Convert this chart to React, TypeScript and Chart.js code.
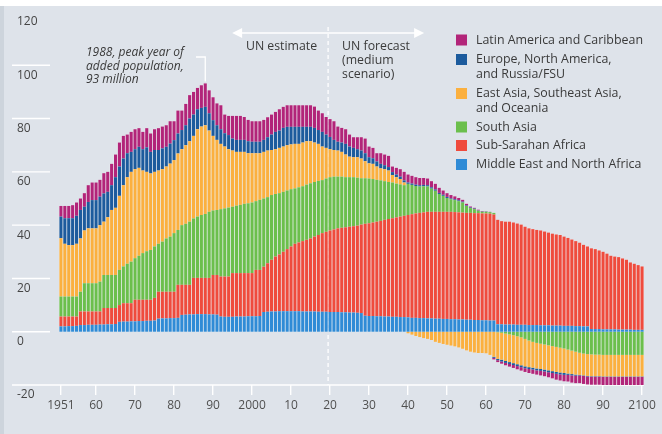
import React, { useEffect, useRef } from 'react';
import { Chart, registerables } from 'chart.js';

Chart.register(...registerables);

const FONT = "'Open Sans', 'DejaVu Sans', sans-serif";
const PANEL = '#dee3ea';

const YEARS: number[] = Array.from({ length: 150 }, (_, i) => 1951 + i);

const X_TICK_YEARS = [1951, 1960, 1970, 1980, 1990, 2000, 2010, 2020, 2030, 2040, 2050, 2060, 2070, 2080, 2090, 2100];
const X_TICK_LABELS = ['1951', '60', '70', '80', '90', '2000', '10', '20', '30', '40', '50', '60', '70', '80', '90', '2100'];
const Y_GRID_SHORT = [0, 20, 40, 60, 80, 100];

// Middle East and North Africa
const ME = [
  2.0, 2.0, 2.1, 2.1, 2.2,
  2.5, 2.5, 2.6, 2.6, 2.6, 2.7, 2.7, 2.8, 2.8, 2.9,
  3.7, 3.8, 3.8, 3.9, 3.9, 4.0, 4.0, 4.1, 4.1, 4.2,
  4.9, 5.0, 5.0, 5.1, 5.1, 5.2,
  6.3, 6.4, 6.5, 6.5, 6.6, 6.6, 6.6, 6.5, 6.5, 6.4,
  5.7, 5.6, 5.6, 5.6, 5.7, 5.7, 5.7, 5.8, 5.8, 5.8, 5.9,
  7.4, 7.5, 7.6, 7.6, 7.7, 7.7, 7.7, 7.7, 7.7, 7.7, 7.6, 7.6, 7.6, 7.6, 7.5, 7.5, 7.5, 7.4, 7.4, 7.4, 7.3, 7.3, 7.2, 7.2, 7.1, 7.0,
  6.0, 5.9, 5.9, 5.8, 5.8, 5.7, 5.7, 5.6, 5.6, 5.5, 5.5, 5.4,
  5.2, 5.2, 5.1, 5.1, 5.0, 5.0, 4.9, 4.9, 4.8, 4.8, 4.7, 4.7, 4.6, 4.6, 4.5, 4.5, 4.4, 4.4, 4.3, 4.3, 4.2, 4.2,
  2.8, 2.8, 2.7, 2.7, 2.7, 2.6, 2.6, 2.6, 2.5, 2.5, 2.5, 2.4, 2.4, 2.4, 2.3, 2.3, 2.3, 2.2, 2.2, 2.2, 2.1, 2.1, 2.0, 2.0,
  1.0, 1.0, 1.0, 0.9, 0.9, 0.9, 0.9, 0.8, 0.8, 0.8, 0.8, 0.7, 0.7, 0.7,
];

// Sub-Saharan Africa
const SSA = [
  3.7, 3.7, 3.6, 3.6, 3.5, 5.1, 5.1, 5.0, 5.0, 5.0,
  4.9, 6.2, 6.1, 6.1, 6.0, 6.3, 6.9, 6.9, 6.8, 8.1,
  8.0, 8.0, 7.9, 7.9, 8.5, 10.1, 10.0, 10.0, 9.9, 9.9,
  12.4, 11.3, 11.2, 11.1, 13.7, 13.6, 13.6, 13.6, 13.7, 14.8,
  14.9, 15.0, 15.1, 15.1, 16.4, 16.3, 16.3, 16.3, 16.2, 16.2,
  17.4, 17.3, 17.0, 18.2, 19.4, 20.6, 21.3, 22.3, 23.3, 24.3,
  25.3, 25.8, 26.4, 26.9, 27.4, 28.1, 28.8, 29.5, 30.0, 30.6,
  31.0, 31.4, 31.7, 31.9, 32.2, 32.4, 32.7, 33.2, 34.5, 34.8,
  35.1, 35.5, 35.8, 36.3, 36.6, 37.0, 37.3, 37.7, 38.0, 38.4,
  38.9, 39.2, 39.5, 39.7, 40.0, 40.0, 40.1, 40.1, 40.2, 40.2,
  40.3, 40.2, 40.2, 40.1, 40.1, 40.1, 40.1, 40.1, 40.1, 40.1,
  40.1, 39.8, 39.2, 38.7, 38.6, 38.6, 38.3, 38.0, 37.6, 36.8,
  36.3, 36.0, 35.7, 35.6, 35.2, 34.8, 34.5, 34.2, 34.0, 33.5,
  33.0, 32.4, 31.9, 31.3, 30.6, 30.0, 30.3, 30.0, 29.5, 29.1,
  28.4, 27.6, 27.3, 27.2, 26.7, 26.2, 25.2, 24.8, 24.3, 23.8,
];

// South Asia
const SA = [
  7.5, 7.5, 7.5, 7.5, 7.5, 7.4, 10.6, 10.6, 10.6, 10.6,
  11.2, 12.4, 12.4, 12.4, 12.4, 13.2, 13.8, 14.8, 15.6, 15.6,
  16.5, 17.5, 18.2, 18.7, 19.3, 18.0, 18.8, 20.0, 20.7, 22.0,
  20.6, 22.4, 22.9, 23.7, 22.3, 23.0, 23.6, 24.0, 24.8, 24.2,
  24.4, 25.3, 25.6, 25.9, 24.9, 25.3, 25.6, 26.0, 26.2, 26.5,
  25.8, 26.3, 25.6, 24.8, 24.3, 23.5, 23.0, 22.5, 22.0, 21.5,
  20.8, 20.7, 20.6, 20.7, 20.7, 20.5, 20.3, 19.9, 20.0, 20.0,
  19.8, 19.4, 19.2, 18.8, 18.6, 18.4, 18.0, 17.4, 17.1, 16.8,
  16.3, 15.7, 15.2, 14.5, 13.9, 13.4, 12.7, 12.1, 11.5, 11.7,
  11.0, 10.3, 9.9, 9.8, 9.5, 8.7, 7.9, 6.7, 6.0, 5.2,
  4.7, 4.5, 4.2, 3.8, 2.6, 1.8, 1.5, 0.9, 0.6, 0.6,
  0.6, 0.6, -0.2, -0.4, -0.7, -1.0, -1.3, -1.7, -2.1, -2.7,
  -3.3, -3.8, -4.2, -4.5, -4.8, -5.1, -5.4, -5.7, -6.0, -6.3,
  -6.7, -7.1, -7.5, -7.9, -8.2, -8.4, -8.5, -8.6, -8.6, -8.7,
  -8.7, -8.7, -8.7, -8.7, -8.7, -8.7, -8.7, -8.7, -8.7, -8.7,
];

// East Asia, Southeast Asia, and Oceania
const EA = [
  21.9, 19.8, 19.3, 19.3, 19.8, 20.0, 19.8, 20.6, 20.6, 20.6,
  21.2, 20.0, 21.7, 24.4, 25.2, 27.8, 30.5, 32.5, 33.7, 33.4,
  33.0, 31.0, 29.8, 28.7, 28.0, 27.5, 27.2, 27.0, 27.4, 27.4,
  28.7, 28.5, 29.5, 30.2, 31.0, 32.8, 33.2, 33.3, 30.5, 28.0,
  26.3, 24.5, 23.2, 21.9, 21.1, 20.2, 19.9, 19.5, 18.8, 18.5,
  18.0, 17.5, 17.5, 17.5, 16.9, 16.8, 17.0, 17.0, 17.0, 16.8,
  16.7, 16.3, 16.4, 16.3, 15.8, 14.8, 13.9, 12.6, 11.5, 10.5,
  10.0, 9.8, 9.3, 8.5, 7.7, 7.5, 7.7, 7.4, 6.4, 5.7,
  5.7, 5.0, 4.5, 4.5, 4.3, 2.8, 2.4, 2.0, 1.0, -0.6,
  -1.1, -1.6, -2.0, -2.4, -2.7, -3.1, -3.8, -4.2, -4.6, -4.9,
  -5.2, -5.5, -5.9, -6.4, -7.0, -7.5, -7.8, -8.0, -8.0, -8.1,
  -8.7, -9.4, -10.0, -10.1, -10.3, -10.4, -10.5, -10.5, -10.5, -10.3,
  -10.0, -9.7, -9.6, -9.5, -9.4, -9.4, -9.4, -9.4, -9.3, -9.2,
  -9.0, -8.8, -8.6, -8.3, -8.2, -8.2, -8.2, -8.1, -8.1, -8.1,
  -8.1, -8.1, -8.1, -8.1, -8.1, -8.1, -8.1, -8.1, -8.1, -8.1,
];

// Europe, North America, and Russia/FSU
const EUR = [
  8.1, 9.6, 10.1, 10.1, 10.5, 10.7, 8.9, 9.9, 10.6, 10.6,
  10.7, 10.6, 9.5, 9.3, 11.5, 11.0, 10.0, 9.0, 7.5, 7.5,
  7.9, 8.0, 9.2, 8.1, 8.2, 7.7, 7.8, 7.4, 7.5, 7.5,
  7.5, 7.2, 7.5, 8.5, 8.0, 7.5, 7.0, 6.9, 6.5, 5.9,
  5.5, 5.5, 5.0, 5.3, 4.5, 4.5, 4.5, 4.5, 4.5, 4.3,
  4.3, 4.3, 4.5, 5.0, 5.8, 6.5, 6.5, 7.0, 6.9, 6.6,
  6.4, 6.4, 5.9, 5.4, 5.4, 5.5, 5.2, 5.5, 5.0, 4.6,
  3.8, 3.3, 3.5, 4.0, 3.8, 3.5, 3.0, 3.0, 3.0, 2.3,
  2.1, 1.9, 1.7, 1.5, 1.3, 1.1, 1.0, 0.9, 0.8, 0.5,
  0.5, 0.5, 0.5, 0.5, 0.5, 0.5, 0.5, 0.4, 0.4, 0.4,
  0.3, 0.3, 0.3, 0.3, 0.2, 0.2, 0.2, 0.1, 0.1, 0.1,
  0.05, -0.4, -0.5, -0.7, -0.7, -0.7, -0.7, -0.7, -0.7, -0.7,
  -0.7, -0.7, -0.7, -0.7, -0.7, -0.7, -0.7, -0.7, -0.7, -0.7,
  -0.5, -0.5, -0.4, -0.2, -0.2, -0.2, -0.2, -0.2, -0.2, -0.2,
  -0.2, -0.2, -0.2, -0.2, -0.2, -0.2, -0.2, -0.2, -0.2, -0.2,
];

// Latin America and Caribbean
const LAT = [
  4.0, 4.6, 4.6, 4.9, 5.0, 4.3, 5.1, 6.3, 6.6, 6.6,
  6.3, 7.6, 7.5, 8.0, 8.5, 9.0, 8.5, 7.0, 7.5, 7.5,
  7.0, 6.5, 7.2, 6.9, 7.8, 8.2, 8.2, 8.1, 8.4, 7.1,
  8.6, 7.3, 8.0, 8.8, 8.5, 8.0, 8.5, 8.8, 8.6, 8.6,
  8.2, 9.0, 7.0, 7.2, 8.5, 9.0, 9.0, 8.6, 8.0, 7.7,
  7.7, 7.7, 7.5, 7.5, 7.5, 7.5, 8.0, 7.9, 8.1, 8.1,
  8.1, 8.1, 8.1, 8.1, 8.1, 8.0, 7.3, 7.0, 6.6, 6.7,
  7.0, 5.7, 5.5, 5.5, 4.5, 4.0, 4.5, 5.0, 5.5, 4.0,
  3.9, 3.1, 4.0, 4.0, 4.2, 2.1, 2.5, 2.8, 3.2, 3.0,
  2.9, 2.8, 2.7, 2.6, 2.5, 2.3, 2.1, 1.9, 1.6, 1.4,
  1.3, 1.1, 0.9, 0.7, 0.6, 0.4, 0.3, 0.3, 0.2, 0.1,
  0.05, -0.6, -0.7, -0.8, -0.9, -1.0, -1.1, -1.2, -1.3, -1.4,
  -1.5, -1.6, -1.6, -1.7, -1.8, -1.9, -2.0, -2.2, -2.3, -2.4,
  -2.5, -2.7, -2.8, -2.9, -3.0, -3.0, -3.0, -3.0, -3.0, -3.0,
  -3.0, -3.0, -3.0, -3.0, -3.0, -3.0, -3.0, -3.0, -3.0, -3.0,
];

const SERIES_NAMES = [
  'Middle East and North Africa',
  'Sub-Sarahan Africa',
  'South Asia',
  'East Asia, Southeast Asia, and Oceania',
  'Europe, North America, and Russia/FSU',
  'Latin America and Caribbean',
];
const SERIES_COLORS = ['#2f8bd6', '#ef4b3d', '#6bbf4c', '#fbb03f', '#1c5b9d', '#b22479'];
const SERIES_DATA = [ME, SSA, SA, EA, EUR, LAT];

// legend (top to bottom), text lines per entry
const LEGEND_ORDER = [5, 4, 3, 2, 1, 0];
const LEGEND_LINES = [
  ['Latin America and Caribbean'],
  ['Europe, North America,', 'and Russia/FSU'],
  ['East Asia, Southeast Asia,', 'and Oceania'],
  ['South Asia'],
  ['Sub-Sarahan Africa'],
  ['Middle East and North Africa'],
];
const LEGEND_Y = [40, 59.5, 93.5, 127, 145.5, 164.5];

const PEAK_YEAR = 1988;
const PEAK_TEXT = ['1988, peak year of', 'added population,', '93 million'];
const FORECAST_START = 2020;

const decor = {
  id: 'decor',
  beforeDraw(chart: any) {
    const { ctx, width, height, chartArea } = chart;
    const y = chart.scales.y;
    ctx.save();
    ctx.fillStyle = '#ffffff';
    ctx.fillRect(0, 0, width, height);
    ctx.fillStyle = PANEL;
    ctx.fillRect(0, 6, width, height - 6);
    ctx.fillStyle = '#cdd4dc';
    ctx.fillRect(0, 6, 4, height - 6);
    ctx.strokeStyle = '#ffffff';
    ctx.lineWidth = 1.4;
    for (const v of Y_GRID_SHORT) {
      const py = y.getPixelForValue(v);
      ctx.beginPath();
      ctx.moveTo(12, py);
      ctx.lineTo(50, py);
      ctx.stroke();
    }
    const pb = y.getPixelForValue(-20);
    ctx.beginPath();
    ctx.moveTo(12, pb);
    ctx.lineTo(chartArea.right, pb);
    ctx.stroke();
    ctx.restore();
  },
  beforeDatasetsDraw(chart: any) {
    const { ctx } = chart;
    const x = chart.scales.x;
    const y = chart.scales.y;
    const slot = x.getPixelForValue(1) - x.getPixelForValue(0);
    ctx.save();
    const dx = x.getPixelForValue(YEARS.indexOf(FORECAST_START)) - slot / 2;
    ctx.strokeStyle = '#ffffff';
    ctx.lineWidth = 1.3;
    ctx.setLineDash([4, 3]);
    ctx.beginPath();
    ctx.moveTo(dx, 27);
    ctx.lineTo(dx, y.getPixelForValue(-20));
    ctx.stroke();
    ctx.setLineDash([]);
    ctx.fillStyle = 'rgba(255,255,255,0.5)';
    const ds = chart.data.datasets;
    for (let i = 0; i < YEARS.length; i++) {
      let pos = 0;
      let neg = 0;
      for (const d of ds) {
        const v = d.data[i] as number;
        if (v >= 0) pos += v;
        else neg += v;
      }
      const cx = x.getPixelForValue(i);
      const top = y.getPixelForValue(pos);
      const bot = y.getPixelForValue(neg);
      ctx.fillRect(cx - slot / 2, top, slot, bot - top);
    }
    ctx.restore();
  },
  afterDatasetsDraw(chart: any) {
    const { ctx } = chart;
    const x = chart.scales.x;
    const y = chart.scales.y;
    const slot = x.getPixelForValue(1) - x.getPixelForValue(0);
    ctx.save();
    const dx = x.getPixelForValue(YEARS.indexOf(FORECAST_START)) - slot / 2;

    const ay = 33;
    const l = dx - 96;
    const r = dx + 96;
    ctx.strokeStyle = '#ffffff';
    ctx.fillStyle = '#ffffff';
    ctx.lineWidth = 1.5;
    ctx.beginPath();
    ctx.moveTo(l + 6, ay);
    ctx.lineTo(r - 6, ay);
    ctx.stroke();
    ctx.beginPath();
    ctx.moveTo(l, ay);
    ctx.lineTo(l + 10, ay - 5);
    ctx.lineTo(l + 10, ay + 5);
    ctx.closePath();
    ctx.fill();
    ctx.beginPath();
    ctx.moveTo(r, ay);
    ctx.lineTo(r - 10, ay - 5);
    ctx.lineTo(r - 10, ay + 5);
    ctx.closePath();
    ctx.fill();

    ctx.fillStyle = '#3a3a3a';
    ctx.font = `12.3px ${FONT}`;
    ctx.textBaseline = 'middle';
    ctx.textAlign = 'right';
    ctx.fillText('UN estimate', dx - 11, 46);
    ctx.textAlign = 'left';
    ['UN forecast', '(medium', 'scenario)'].forEach((t, k) => ctx.fillText(t, dx + 14, 46 + k * 14));

    const pi = YEARS.indexOf(PEAK_YEAR);
    let peakTotal = 0;
    for (const d of chart.data.datasets) {
      const v = d.data[pi] as number;
      if (v > 0) peakTotal += v;
    }
    const px = x.getPixelForValue(pi);
    const ptop = y.getPixelForValue(peakTotal);
    ctx.strokeStyle = '#ffffff';
    ctx.lineWidth = 1.3;
    ctx.beginPath();
    ctx.moveTo(196, 57);
    ctx.lineTo(px, 57);
    ctx.lineTo(px, ptop - 2);
    ctx.stroke();
    ctx.fillStyle = '#3a3a3a';
    ctx.font = `italic 12px ${FONT}`;
    ctx.textAlign = 'left';
    PEAK_TEXT.forEach((t, k) => ctx.fillText(t, 86, 53 + k * 13.5));

    ctx.font = `12.4px ${FONT}`;
    LEGEND_ORDER.forEach((si, k) => {
      const cy = LEGEND_Y[k];
      ctx.fillStyle = SERIES_COLORS[si];
      ctx.fillRect(456, cy - 5.5, 11, 11);
      ctx.fillStyle = '#3a3a3a';
      LEGEND_LINES[k].forEach((t, j) => ctx.fillText(t, 476, cy + j * 14.5));
    });
    ctx.restore();
  },
};

export default function App() {
  const ref = useRef<HTMLCanvasElement | null>(null);
  useEffect(() => {
    document.body.style.margin = '0';
    const canvas = ref.current;
    if (!canvas) return;
    const chart = new Chart(canvas, {
      type: 'bar',
      data: {
        labels: YEARS.map(String),
        datasets: SERIES_DATA.map((d, k) => ({
          label: SERIES_NAMES[k],
          data: d,
          backgroundColor: SERIES_COLORS[k],
          borderWidth: 0,
          barPercentage: 0.8,
          categoryPercentage: 1,
          stack: 'all',
        })),
      },
      options: {
        animation: false,
        responsive: false,
        devicePixelRatio: 1,
        layout: { padding: { left: 17, right: 18, top: 12, bottom: 0 } },
        plugins: { legend: { display: false }, tooltip: { enabled: false } },
        scales: {
          x: {
            type: 'category',
            stacked: true,
            grid: { display: true, drawOnChartArea: false, drawTicks: true, tickLength: 10, color: '#ffffff', lineWidth: 1.4, offset: false },
            border: { display: false },
            ticks: {
              autoSkip: false,
              maxRotation: 0,
              padding: 3,
              color: '#505050',
              font: { family: FONT, size: 12 },
              callback: (value: any) => {
                const k = X_TICK_YEARS.indexOf(YEARS[value as number]);
                return k >= 0 ? X_TICK_LABELS[k] : '';
              },
            },
            afterBuildTicks: (axis: any) => {
              axis.ticks = axis.ticks.filter((t: any) => X_TICK_YEARS.includes(YEARS[t.value]));
            },
            afterFit: (axis: any) => {
              axis.height = 49;
            },
          },
          y: {
            stacked: true,
            min: -20,
            max: 120,
            grid: { display: false },
            border: { display: false },
            ticks: {
              stepSize: 20,
              color: '#454545',
              font: { family: FONT, size: 12 },
              crossAlign: 'far',
              labelOffset: 10,
              padding: 0,
            },
            afterFit: (axis: any) => {
              axis.width = 42;
            },
          },
        },
      },
      plugins: [decor],
    });
    return () => chart.destroy();
  }, []);
  return (
    <div style={{ width: 662, height: 434, position: 'relative' }}>
      <canvas ref={ref} width={662} height={434} style={{ display: 'block' }} />
    </div>
  );
}
